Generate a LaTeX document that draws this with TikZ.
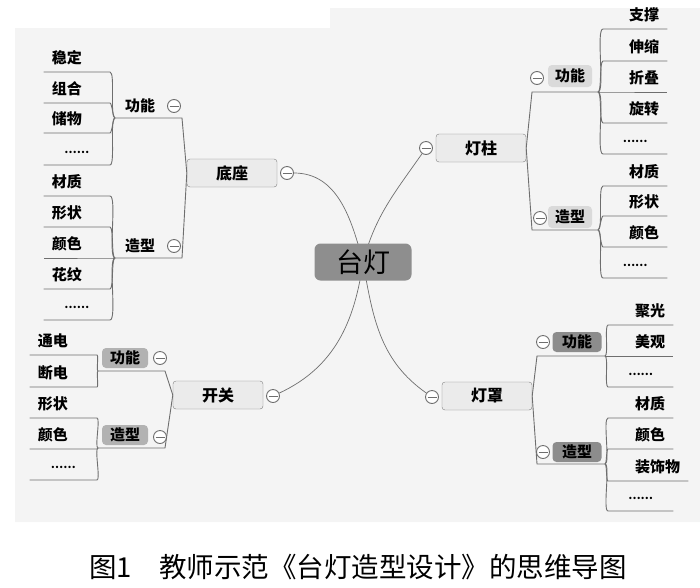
\documentclass[tikz,border=0pt]{standalone}
\usepackage{fontspec}
\setmainfont{Noto Sans CJK SC}
\usetikzlibrary{backgrounds}
\definecolor{linegray}{HTML}{6E6E6E}
\definecolor{bggray}{HTML}{F4F4F4}
\definecolor{rootgray}{HTML}{8E8E8E}
\definecolor{boxgray}{HTML}{EBEBEB}
\definecolor{taglight}{HTML}{DADADA}
\definecolor{tagmid}{HTML}{B2B2B2}
\definecolor{tagdark}{HTML}{8C8C8C}
\begin{document}
\begin{tikzpicture}[x=1pt,y=-1pt,
    root/.style = {fill=rootgray, rounded corners=6pt, minimum width=97pt, minimum height=37pt, font=\fontsize{27}{27}\selectfont},
    main/.style = {draw=gray, fill=boxgray, rounded corners=3pt, minimum width=90pt, minimum height=28pt, font=\fontsize{16}{16}\selectfont\bfseries},
    tag/.style = {rounded corners=4pt, minimum width=46pt, minimum height=21pt, inner sep=0pt, font=\fontsize{15}{15}\selectfont\bfseries},
    leaf/.style = {inner xsep=8pt, inner ysep=5pt, text height=12pt, text depth=3pt, font=\fontsize{15}{15}\selectfont\bfseries},
    lleaf/.style = {leaf, anchor=south east, text width=50pt, align=left},
    rleaf/.style = {leaf, anchor=south west, text width=48pt, align=right},
    dots/.style = {align=center, font=\fontsize{11}{11}\selectfont\bfseries},
    minus/.style = {circle, draw=linegray, line width=0.9pt, fill=white, minimum size=13pt, inner sep=0pt,
        path picture={\draw[linegray, line width=0.9pt] ([xshift=2pt]path picture bounding box.west) -- ([xshift=-2pt]path picture bounding box.east);}},
    link/.style = {draw=linegray, line width=0.9pt}
]
    \useasboundingbox (0,0) rectangle (700,587);
    \begin{scope}[on background layer]
        \fill[bggray] (15,28) -- (330,28) -- (330,8) -- (700,8) -- (700,522) -- (15,522) -- cycle;
    \end{scope}

    % centre
    \node[root] (0) at (363,262) {台灯};
    \node[main] (1) at (232,173) {底座};
    \node[main] (2) at (481,148) {灯柱};
    \node[main] (3) at (218,395) {开关};
    \node[main] (4) at (487,396) {灯罩};
    \node[minus] (m1) at (287,173) {};
    \node[minus] (m2) at (426,148) {};
    \node[minus] (m3) at (273,396) {};
    \node[minus] (m4) at (432,397) {};
    \begin{scope}[on background layer]
        \draw[link, line width=0.7pt] (0.center) to[out=105,in=0] (m1);
        \draw[link, line width=0.7pt] (0.center) to[out=75,in=235] (m2);
        \draw[link, line width=0.7pt] (0.center) to[out=262,in=25] (m3);
        \draw[link, line width=0.7pt] (0.center) to[out=280,in=145] (m4);
    \end{scope}

    % base
    \node[tag] (11) at (140,106) {功能};
    \node[minus] (m11) at (174,106) {};
    \node[tag] (12) at (140,246) {造型};
    \node[minus] (m12) at (174,246) {};
    \coordinate (11a) at (115,118); \coordinate (11b) at (182,118);
    \coordinate (12a) at (115,258); \coordinate (12b) at (182,258);
    \draw[link] (1.west) -- (11b) -- (11a);
    \draw[link] (1.west) -- (12b) -- (12a);
    \node[lleaf] (111) at (110,72) {稳定};
    \node[lleaf] (112) at (110,103) {组合};
    \node[lleaf] (113) at (110,133) {储物};
    \node[lleaf,dots] (114) at (110,165) {\raisebox{3pt}{……}};
    \node[lleaf] (121) at (110,196) {材质};
    \node[lleaf] (122) at (110,227) {形状};
    \node[lleaf] (123) at (110,258) {颜色};
    \node[lleaf] (124) at (110,289) {花纹};
    \node[lleaf,dots] (125) at (110,320) {\raisebox{3pt}{……}};
    \draw[link] (11a) to[out=180,in=0,looseness=.3] (111.south east) -- (111.south west);
    \draw[link] (11a) to[out=180,in=0,looseness=.3] (112.south east) -- (112.south west);
    \draw[link] (11a) to[out=180,in=0,looseness=.3] (113.south east) -- (113.south west);
    \draw[link] (11a) to[out=180,in=0,looseness=.3] (114.south east) -- (114.south west);
    \draw[link] (12a) to[out=180,in=0,looseness=.3] (121.south east) -- (121.south west);
    \draw[link] (12a) to[out=180,in=0,looseness=.3] (122.south east) -- (122.south west);
    \draw[link] (12a) to[out=180,in=0,looseness=.3] (123.south east) -- (123.south west);
    \draw[link] (12a) to[out=180,in=0,looseness=.3] (124.south east) -- (124.south west);
    \draw[link] (12a) to[out=180,in=0,looseness=.3] (125.south east) -- (125.south west);

    % pole
    \node[tag, fill=taglight, minimum width=44pt, minimum height=22pt] (21) at (570,76) {功能};
    \node[minus] (m21) at (537,78) {};
    \node[tag, fill=taglight, minimum width=44pt, minimum height=22pt] (22) at (570,217) {造型};
    \node[minus] (m22) at (540,218) {};
    \coordinate (21a) at (598,92); \coordinate (21b) at (532,92);
    \coordinate (22a) at (598,230); \coordinate (22b) at (532,230);
    \draw[link] (2.east) -- (21b) -- (21a);
    \draw[link] (2.east) -- (22b) -- (22a);
    \node[rleaf] (211) at (603,29) {支撑};
    \node[rleaf] (212) at (603,61) {伸缩};
    \node[rleaf] (213) at (603,92) {折叠};
    \node[rleaf] (214) at (603,123) {旋转};
    \node[rleaf,dots] (215) at (603,154) {\raisebox{3pt}{……}};
    \node[rleaf] (221) at (603,186) {材质};
    \node[rleaf] (222) at (603,216) {形状};
    \node[rleaf] (223) at (603,247) {颜色};
    \node[rleaf,dots] (224) at (603,278) {\raisebox{3pt}{……}};
    \draw[link] (21a) to[out=0,in=180,looseness=.3] (211.south west) -- (211.south east);
    \draw[link] (21a) to[out=0,in=180,looseness=.3] (212.south west) -- (212.south east);
    \draw[link] (21a) to[out=0,in=180,looseness=.3] (213.south west) -- (213.south east);
    \draw[link] (21a) to[out=0,in=180,looseness=.3] (214.south west) -- (214.south east);
    \draw[link] (21a) to[out=0,in=180,looseness=.3] (215.south west) -- (215.south east);
    \draw[link] (22a) to[out=0,in=180,looseness=.3] (221.south west) -- (221.south east);
    \draw[link] (22a) to[out=0,in=180,looseness=.3] (222.south west) -- (222.south east);
    \draw[link] (22a) to[out=0,in=180,looseness=.3] (223.south west) -- (223.south east);
    \draw[link] (22a) to[out=0,in=180,looseness=.3] (224.south west) -- (224.south east);

    % switch
    \node[tag, fill=tagmid, minimum height=20pt] (31) at (125,358) {功能};
    \node[minus] (m31) at (160,358) {};
    \node[tag, fill=tagmid, minimum height=20pt] (32) at (125,435) {造型};
    \node[minus] (m32) at (160,437) {};
    \coordinate (31a) at (98,371); \coordinate (31b) at (165,371);
    \coordinate (32a) at (98,448); \coordinate (32b) at (165,448);
    \draw[link] (3.west) -- (31b) -- (31a);
    \draw[link] (3.west) -- (32b) -- (32a);
    \node[lleaf, text width=51pt] (311) at (97,355) {通电};
    \node[lleaf, text width=51pt] (312) at (97,387) {断电};
    \node[lleaf, text width=51pt] (321) at (97,418) {形状};
    \node[lleaf, text width=51pt] (322) at (97,449) {颜色};
    \node[lleaf, text width=51pt, dots] (323) at (97,480) {\raisebox{3pt}{……}};
    \draw[link] (31a) to[out=180,in=0,looseness=.3] (311.south east) -- (311.south west);
    \draw[link] (31a) to[out=180,in=0,looseness=.3] (312.south east) -- (312.south west);
    \draw[link] (32a) to[out=180,in=0,looseness=.3] (321.south east) -- (321.south west);
    \draw[link] (32a) to[out=180,in=0,looseness=.3] (322.south east) -- (322.south west);
    \draw[link] (32a) to[out=180,in=0,looseness=.3] (323.south east) -- (323.south west);

    % shade
    \node[tag, fill=tagdark, minimum width=49pt, minimum height=20pt] (41) at (577,342) {功能};
    \node[minus] (m41) at (543,342) {};
    \node[tag, fill=tagdark, minimum width=49pt, minimum height=20pt] (42) at (577,452) {造型};
    \node[minus] (m42) at (543,452) {};
    \coordinate (41a) at (605,356); \coordinate (41b) at (537,356);
    \coordinate (42a) at (605,464); \coordinate (42b) at (537,464);
    \draw[link] (4.east) -- (41b) -- (41a);
    \draw[link] (4.east) -- (42b) -- (42a);
    \node[rleaf, text width=49pt] (411) at (608,325) {聚光};
    \node[rleaf, text width=49pt] (412) at (608,356) {美观};
    \node[rleaf, text width=49pt, dots] (413) at (608,387) {\raisebox{3pt}{……}};
    \node[rleaf, text width=49pt] (421) at (608,418) {材质};
    \node[rleaf, text width=49pt] (422) at (608,449) {颜色};
    \node[rleaf, text width=64pt] (423) at (608,481) {装饰物};
    \node[rleaf, text width=49pt, dots] (424) at (608,511) {\raisebox{3pt}{……}};
    \draw[link] (41a) to[out=0,in=180,looseness=.3] (411.south west) -- (411.south east);
    \draw[link] (41a) to[out=0,in=180,looseness=.3] (412.south west) -- (412.south east);
    \draw[link] (41a) to[out=0,in=180,looseness=.3] (413.south west) -- (413.south east);
    \draw[link] (42a) to[out=0,in=180,looseness=.3] (421.south west) -- (421.south east);
    \draw[link] (42a) to[out=0,in=180,looseness=.3] (422.south west) -- (422.south east);
    \draw[link] (42a) to[out=0,in=180,looseness=.3] (423.south west) -- (423.south east);
    \draw[link] (42a) to[out=0,in=180,looseness=.3] (424.south west) -- (424.south east);

    % caption
    \node (cap) at (358,567) {\fontsize{27.5}{27.5}\selectfont 图1\quad 教师示范《台灯造型设计》的思维导图};
\end{tikzpicture}
\end{document}
